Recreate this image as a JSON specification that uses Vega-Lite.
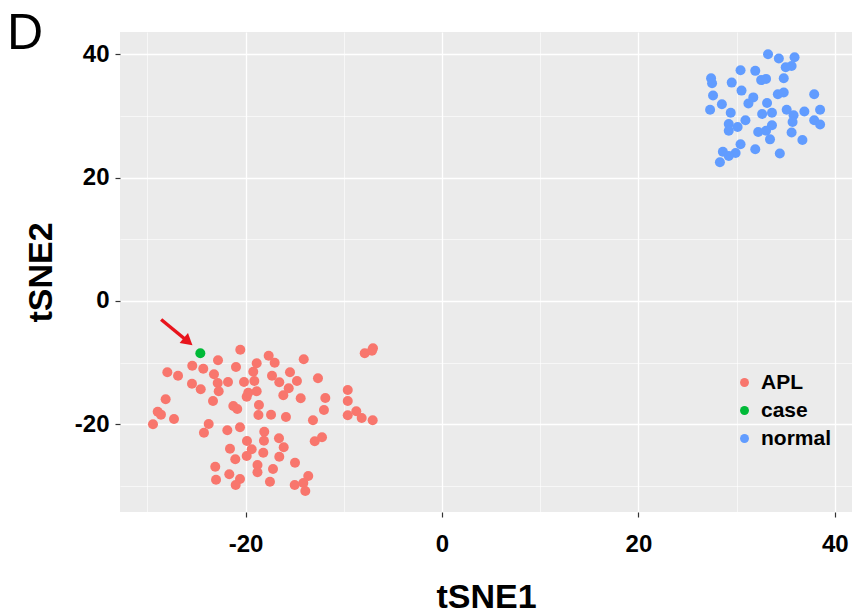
{
  "$schema": "https://vega.github.io/schema/vega-lite/v6.json",
  "width": 732,
  "height": 480,
  "autosize": {"type": "none"},
  "padding": {"left": 120, "top": 32, "right": 0, "bottom": 102},
  "background": "white",
  "title": {"text": "D", "anchor": "start", "frame": "group", "fontSize": 50, "fontWeight": "normal", "font": "Liberation Sans", "color": "black", "baseline": "alphabetic", "offset": 0, "dx": -113, "dy": 67},
  "config": {
    "view": {"fill": "#EBEBEB", "stroke": null},
    "font": "Liberation Sans"
  },
  "datasets": {
    "pts": [
      {"x": 33.2, "y": 40.0, "group": "normal"},
      {"x": 34.3, "y": 39.3, "group": "normal"},
      {"x": 35.9, "y": 39.5, "group": "normal"},
      {"x": 35.6, "y": 38.1, "group": "normal"},
      {"x": 35.0, "y": 37.9, "group": "normal"},
      {"x": 30.4, "y": 37.4, "group": "normal"},
      {"x": 31.9, "y": 37.3, "group": "normal"},
      {"x": 27.4, "y": 36.1, "group": "normal"},
      {"x": 27.5, "y": 35.3, "group": "normal"},
      {"x": 29.5, "y": 35.4, "group": "normal"},
      {"x": 32.5, "y": 35.8, "group": "normal"},
      {"x": 33.0, "y": 36.0, "group": "normal"},
      {"x": 34.8, "y": 36.1, "group": "normal"},
      {"x": 30.5, "y": 34.1, "group": "normal"},
      {"x": 34.2, "y": 33.5, "group": "normal"},
      {"x": 34.8, "y": 33.8, "group": "normal"},
      {"x": 37.9, "y": 33.5, "group": "normal"},
      {"x": 27.6, "y": 33.3, "group": "normal"},
      {"x": 31.7, "y": 33.0, "group": "normal"},
      {"x": 31.2, "y": 32.0, "group": "normal"},
      {"x": 33.1, "y": 32.1, "group": "normal"},
      {"x": 28.5, "y": 31.9, "group": "normal"},
      {"x": 27.3, "y": 31.0, "group": "normal"},
      {"x": 29.4, "y": 30.5, "group": "normal"},
      {"x": 32.6, "y": 30.3, "group": "normal"},
      {"x": 33.6, "y": 30.5, "group": "normal"},
      {"x": 35.1, "y": 31.0, "group": "normal"},
      {"x": 35.8, "y": 30.1, "group": "normal"},
      {"x": 36.9, "y": 30.7, "group": "normal"},
      {"x": 38.5, "y": 31.0, "group": "normal"},
      {"x": 30.9, "y": 29.3, "group": "normal"},
      {"x": 29.2, "y": 28.7, "group": "normal"},
      {"x": 30.1, "y": 28.2, "group": "normal"},
      {"x": 29.2, "y": 27.6, "group": "normal"},
      {"x": 33.6, "y": 28.5, "group": "normal"},
      {"x": 35.7, "y": 29.0, "group": "normal"},
      {"x": 37.9, "y": 29.3, "group": "normal"},
      {"x": 38.5, "y": 28.6, "group": "normal"},
      {"x": 32.2, "y": 27.4, "group": "normal"},
      {"x": 33.0, "y": 27.6, "group": "normal"},
      {"x": 33.4, "y": 26.2, "group": "normal"},
      {"x": 35.6, "y": 27.3, "group": "normal"},
      {"x": 36.7, "y": 26.1, "group": "normal"},
      {"x": 30.4, "y": 25.4, "group": "normal"},
      {"x": 31.9, "y": 24.6, "group": "normal"},
      {"x": 28.6, "y": 24.2, "group": "normal"},
      {"x": 29.9, "y": 24.0, "group": "normal"},
      {"x": 29.2, "y": 23.5, "group": "normal"},
      {"x": 28.3, "y": 22.5, "group": "normal"},
      {"x": 34.4, "y": 23.9, "group": "normal"},
      {"x": -20.54, "y": -7.89, "group": "APL"},
      {"x": -22.81, "y": -9.61, "group": "APL"},
      {"x": -25.43, "y": -10.49, "group": "APL"},
      {"x": -24.31, "y": -10.97, "group": "APL"},
      {"x": -20.98, "y": -10.70, "group": "APL"},
      {"x": -27.97, "y": -11.56, "group": "APL"},
      {"x": -26.88, "y": -12.11, "group": "APL"},
      {"x": -23.22, "y": -11.88, "group": "APL"},
      {"x": -19.22, "y": -11.46, "group": "APL"},
      {"x": -18.87, "y": -10.10, "group": "APL"},
      {"x": -25.46, "y": -13.40, "group": "APL"},
      {"x": -24.57, "y": -14.31, "group": "APL"},
      {"x": -22.84, "y": -13.29, "group": "APL"},
      {"x": -21.79, "y": -13.13, "group": "APL"},
      {"x": -20.16, "y": -13.13, "group": "APL"},
      {"x": -19.11, "y": -12.97, "group": "APL"},
      {"x": -22.74, "y": -14.64, "group": "APL"},
      {"x": -23.32, "y": -16.21, "group": "APL"},
      {"x": -19.89, "y": -15.51, "group": "APL"},
      {"x": -19.73, "y": -14.86, "group": "APL"},
      {"x": -18.87, "y": -14.64, "group": "APL"},
      {"x": -28.14, "y": -15.93, "group": "APL"},
      {"x": -21.25, "y": -17.02, "group": "APL"},
      {"x": -20.85, "y": -17.50, "group": "APL"},
      {"x": -18.64, "y": -16.86, "group": "APL"},
      {"x": -28.95, "y": -17.94, "group": "APL"},
      {"x": -28.62, "y": -18.42, "group": "APL"},
      {"x": -27.29, "y": -19.12, "group": "APL"},
      {"x": -29.43, "y": -19.98, "group": "APL"},
      {"x": -23.76, "y": -19.94, "group": "APL"},
      {"x": -24.24, "y": -21.35, "group": "APL"},
      {"x": -21.86, "y": -20.96, "group": "APL"},
      {"x": -20.57, "y": -20.47, "group": "APL"},
      {"x": -18.69, "y": -18.48, "group": "APL"},
      {"x": -19.86, "y": -22.69, "group": "APL"},
      {"x": -21.59, "y": -23.94, "group": "APL"},
      {"x": -19.38, "y": -24.04, "group": "APL"},
      {"x": -21.05, "y": -25.66, "group": "APL"},
      {"x": -19.89, "y": -25.12, "group": "APL"},
      {"x": -23.09, "y": -26.86, "group": "APL"},
      {"x": -18.79, "y": -26.58, "group": "APL"},
      {"x": -21.66, "y": -28.09, "group": "APL"},
      {"x": -23.01, "y": -28.96, "group": "APL"},
      {"x": -20.57, "y": -28.85, "group": "APL"},
      {"x": -21.01, "y": -29.82, "group": "APL"},
      {"x": -18.79, "y": -27.76, "group": "APL"},
      {"x": -17.65, "y": -8.87, "group": "APL"},
      {"x": -17.04, "y": -10.00, "group": "APL"},
      {"x": -14.08, "y": -9.45, "group": "APL"},
      {"x": -7.87, "y": -8.48, "group": "APL"},
      {"x": -7.03, "y": -7.67, "group": "APL"},
      {"x": -7.13, "y": -8.06, "group": "APL"},
      {"x": -17.31, "y": -12.11, "group": "APL"},
      {"x": -15.48, "y": -11.56, "group": "APL"},
      {"x": -16.57, "y": -13.18, "group": "APL"},
      {"x": -14.77, "y": -12.97, "group": "APL"},
      {"x": -12.63, "y": -12.53, "group": "APL"},
      {"x": -15.61, "y": -14.15, "group": "APL"},
      {"x": -16.16, "y": -15.28, "group": "APL"},
      {"x": -14.39, "y": -15.77, "group": "APL"},
      {"x": -11.88, "y": -15.72, "group": "APL"},
      {"x": -9.60, "y": -14.42, "group": "APL"},
      {"x": -9.60, "y": -16.21, "group": "APL"},
      {"x": -17.41, "y": -18.43, "group": "APL"},
      {"x": -15.89, "y": -18.80, "group": "APL"},
      {"x": -12.02, "y": -17.67, "group": "APL"},
      {"x": -13.14, "y": -19.34, "group": "APL"},
      {"x": -9.60, "y": -18.53, "group": "APL"},
      {"x": -8.73, "y": -17.88, "group": "APL"},
      {"x": -8.18, "y": -18.96, "group": "APL"},
      {"x": -7.06, "y": -19.34, "group": "APL"},
      {"x": -18.10, "y": -21.18, "group": "APL"},
      {"x": -18.13, "y": -22.64, "group": "APL"},
      {"x": -16.60, "y": -22.25, "group": "APL"},
      {"x": -16.12, "y": -23.71, "group": "APL"},
      {"x": -12.96, "y": -22.74, "group": "APL"},
      {"x": -12.22, "y": -22.09, "group": "APL"},
      {"x": -18.20, "y": -24.59, "group": "APL"},
      {"x": -16.57, "y": -25.24, "group": "APL"},
      {"x": -17.21, "y": -27.23, "group": "APL"},
      {"x": -14.97, "y": -26.21, "group": "APL"},
      {"x": -17.52, "y": -29.29, "group": "APL"},
      {"x": -13.62, "y": -28.36, "group": "APL"},
      {"x": -15.00, "y": -29.82, "group": "APL"},
      {"x": -14.12, "y": -29.50, "group": "APL"},
      {"x": -13.92, "y": -30.79, "group": "APL"},
      {"x": -24.61, "y": -8.48, "group": "case"}
    ],
    "arrow": [
      {"x": -28.6, "y": -3.0, "x2": -26.0, "y2": -6.4}
    ],
    "arrowhead": [
      {"x": -26.0, "y": -6.4}
    ]
  },
  "layer": [
    {
      "data": {"name": "pts"},
      "mark": {"type": "point", "filled": true, "opacity": 1, "size": 100, "shape": "circle"},
      "encoding": {
        "x": {
          "field": "x", "type": "quantitative",
          "scale": {"domain": [-32.79, 41.75], "nice": false, "zero": false},
          "axis": {
            "title": "tSNE1",
            "values": [-30, -20, -10, 0, 10, 20, 30, 40],
            "labelExpr": "datum.value % 20 === 0 ? '' + datum.value : ''",
            "domain": false,
            "grid": true,
            "gridColor": "white",
            "gridWidth": {"condition": {"test": "datum.value % 20 === 0", "value": 1.3}, "value": 0.6},
            "tickColor": "#333333",
            "tickSize": 5,
            "tickWidth": 1.2,
            "tickOpacity": {"condition": {"test": "datum.value % 20 === 0", "value": 1}, "value": 0},
            "labelFont": "Liberation Sans",
            "labelFontSize": 24,
            "labelFontWeight": "bold",
            "labelColor": "black",
            "labelPadding": 15,
            "labelFlush": false,
            "titleFont": "Liberation Sans",
            "titleFontSize": 34,
            "titleFontWeight": "bold",
            "titleColor": "black",
            "titlePadding": 24
          }
        },
        "y": {
          "field": "y", "type": "quantitative",
          "scale": {"domain": [-34.2, 43.6], "nice": false, "zero": false},
          "axis": {
            "title": "tSNE2",
            "values": [-30, -20, -10, 0, 10, 20, 30, 40],
            "labelExpr": "datum.value % 20 === 0 ? '' + datum.value : ''",
            "domain": false,
            "grid": true,
            "gridColor": "white",
            "gridWidth": {"condition": {"test": "datum.value % 20 === 0", "value": 1.3}, "value": 0.6},
            "tickColor": "#333333",
            "tickSize": 5,
            "tickWidth": 1.2,
            "tickOpacity": {"condition": {"test": "datum.value % 20 === 0", "value": 1}, "value": 0},
            "labelFont": "Liberation Sans",
            "labelFontSize": 24,
            "labelFontWeight": "bold",
            "labelColor": "black",
            "labelPadding": 6,
            "labelFlush": false,
            "titleFont": "Liberation Sans",
            "titleFontSize": 34,
            "titleFontWeight": "bold",
            "titleColor": "black",
            "titlePadding": 16
          }
        },
        "color": {
          "field": "group", "type": "nominal",
          "scale": {"domain": ["APL", "case", "normal"], "range": ["#F8766D", "#00BA38", "#619CFF"]},
          "legend": {
            "title": null,
            "orient": "none",
            "legendX": 614,
            "legendY": 340,
            "labelFont": "Liberation Sans",
            "labelFontSize": 21,
            "labelFontWeight": "bold",
            "labelColor": "black",
            "symbolType": "circle",
            "symbolSize": 80,
            "symbolStrokeWidth": 0,
            "rowPadding": 6,
            "labelOffset": 6
          }
        }
      }
    },
    {
      "data": {"name": "arrow"},
      "mark": {"type": "rule", "color": "#E8141C", "strokeWidth": 3.5},
      "encoding": {
        "x": {"field": "x", "type": "quantitative"},
        "y": {"field": "y", "type": "quantitative"},
        "x2": {"field": "x2"},
        "y2": {"field": "y2"}
      }
    },
    {
      "data": {"name": "arrowhead"},
      "mark": {"type": "point", "shape": "triangle", "filled": true, "opacity": 1, "color": "#E8141C", "size": 170, "angle": 130},
      "encoding": {
        "x": {"field": "x", "type": "quantitative"},
        "y": {"field": "y", "type": "quantitative"}
      }
    }
  ]
}
